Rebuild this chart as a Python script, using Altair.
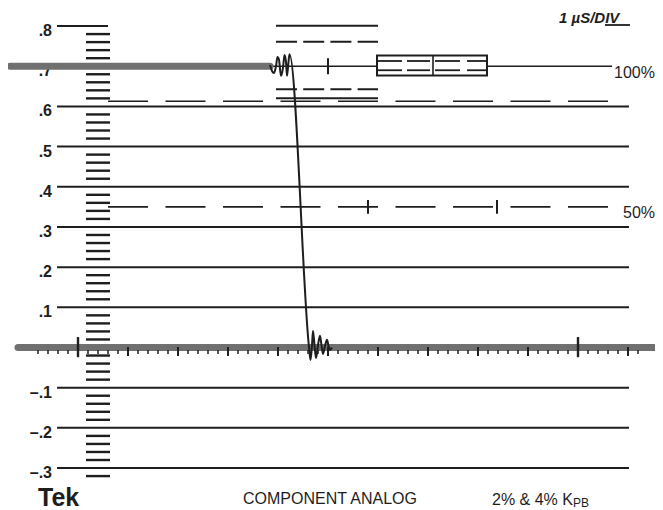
import altair as alt
import pandas as pd

# ---- scale frame (time in microseconds, level in volts) ----
T_DOMAIN = [-1.4, 11.54]
V_DOMAIN = [-0.4044, 0.8449]
W, H = 647, 502

INK = "#1e1e1e"
GRAY = "#707070"
FONT = "Liberation Sans"

# ---- graticule data ----
grid_levels = [0.6, 0.5, 0.4, 0.3, 0.2, 0.1, -0.1, -0.2, -0.3]
grid_span = [-0.42, 11.02]
top_level = [0.8]
top_span = [-0.42, 0.6]
ref100_level = 0.7
ref100_starts = [-0.42, 8.18]
ref100_ends = [5.98, 10.68]
scale_levels = [round(k * 0.02, 2) for k in range(-16, 40) if k % 5 != 0]
scale_span = [0.16, 0.64]
dashed_levels = [0.613, 0.35]
dashed_span = [0.6, 10.64]
mark50_t = [5.8, 8.38]
mark50_v = [0.367, 0.333]
mark100_t = [5.0]
mark100_v = [0.72, 0.68]

# K-factor marks above/below 100%
kf_solid_levels = [0.801, 0.620]
kf_dash_levels = [0.761, 0.643]
kf_span = [3.96, 6.0]

# box around 100%
box_t = [5.98, 8.18]
box_v = [0.677, 0.727]
box_div_t = [7.1]
box_row_levels = [0.713, 0.690]
box_row_starts = [5.98, 6.58, 7.14, 7.78]
box_row_ends = [6.48, 7.04, 7.64, 8.18]

# time ticks on baseline
minor_t = [round(-1.0 + 0.2 * k, 2) for k in range(0, 62) if k % 5 != 0]
major_t = [1, 2, 3, 4, 5, 6, 7, 8, 9, 11]
tall_t = [0, 10]

# gray traces (flat parts of the signal)
gray_levels = [0.7, 0.0]
gray_starts = [-1.36, -1.2]
gray_ends = [3.84, 11.54]

# black trace: ringing, falling edge, ringing
trace_t = [3.84, 3.88, 3.92, 3.96, 3.99, 4.02, 4.06, 4.10, 4.13, 4.16, 4.18, 4.21, 4.23,
           4.62, 4.65, 4.68, 4.70, 4.73, 4.76, 4.80, 4.84, 4.87, 4.90, 4.94, 4.98, 5.01, 5.04, 5.08]
trace_v = [0.703, 0.688, 0.683, 0.700, 0.723, 0.716, 0.676, 0.696, 0.728, 0.711, 0.676, 0.711, 0.730,
           0.001, -0.031, 0.006, 0.041, 0.006, -0.026, 0.006, 0.029, 0.006, -0.016, 0.004, 0.019, 0.004, -0.006, 0.000]

# labels
y_labels = [".8", ".7", ".6", ".5", ".4", ".3", ".2", ".1", "–.1", "–.2", "–.3"]
y_label_values = [0.8, 0.7, 0.6, 0.5, 0.4, 0.3, 0.2, 0.1, -0.1, -0.2, -0.3]
y_label_t = -0.52

xs = alt.Scale(domain=T_DOMAIN, nice=False, zero=False)
ys = alt.Scale(domain=V_DOMAIN, nice=False, zero=False)
X = lambda f: alt.X(f, type="quantitative", scale=xs, axis=None)
Y = lambda f: alt.Y(f, type="quantitative", scale=ys, axis=None)


def hrule(df, width=2.0, dash=None, color=INK, cap="butt"):
    kw = dict(color=color, strokeWidth=width, strokeCap=cap)
    if dash:
        kw["strokeDash"] = dash
    return alt.Chart(df).mark_rule(**kw).encode(x=X("t0"), x2="t1", y=Y("v"))


def vrule(df, width=2.0, color=INK):
    return alt.Chart(df).mark_rule(color=color, strokeWidth=width).encode(x=X("t"), y=Y("v0"), y2="v1")


def label(text, t, v, size, align="left", weight="normal", style="normal", baseline="alphabetic"):
    return (alt.Chart(pd.DataFrame({"lab": [text], "t": [t], "v": [v]}))
            .mark_text(align=align, baseline=baseline, font=FONT, fontSize=size, fontWeight=weight,
                       fontStyle=style, color=INK)
            .encode(x=X("t"), y=Y("v"), text="lab:N"))


layers = []

# y labels (under the gray trace)
layers.append(alt.Chart(pd.DataFrame({"lab": y_labels, "v": y_label_values, "t": y_label_t}))
              .mark_text(align="right", baseline="middle", dy=5, font=FONT, fontSize=16,
                         fontWeight="bold", color=INK)
              .encode(x=X("t"), y=Y("v"), text="lab:N"))

# grid
layers.append(hrule(pd.DataFrame({"v": grid_levels, "t0": grid_span[0], "t1": grid_span[1]}), 2.0))
layers.append(hrule(pd.DataFrame({"v": top_level, "t0": top_span[0], "t1": top_span[1]}), 2.0))
layers.append(hrule(pd.DataFrame({"v": ref100_level, "t0": ref100_starts, "t1": ref100_ends}), 1.6))
layers.append(hrule(pd.DataFrame({"v": scale_levels, "t0": scale_span[0], "t1": scale_span[1]}), 2.4))
layers.append(hrule(pd.DataFrame({"v": dashed_levels, "t0": dashed_span[0], "t1": dashed_span[1]}), 1.6,
                    dash=[40, 17.5]))
layers.append(vrule(pd.DataFrame({"t": mark50_t, "v0": mark50_v[0], "v1": mark50_v[1]}), 2.0))
layers.append(vrule(pd.DataFrame({"t": mark100_t, "v0": mark100_v[0], "v1": mark100_v[1]}), 2.0))

# K-factor marks
layers.append(hrule(pd.DataFrame({"v": kf_solid_levels, "t0": kf_span[0], "t1": kf_span[1]}), 2.0))
layers.append(hrule(pd.DataFrame({"v": kf_dash_levels, "t0": kf_span[0], "t1": kf_span[1]}), 2.0,
                    dash=[21, 6.2]))

# box
layers.append(alt.Chart(pd.DataFrame({"t0": [box_t[0]], "t1": [box_t[1]], "v0": [box_v[0]], "v1": [box_v[1]]}))
              .mark_rect(fill="white", stroke=INK, strokeWidth=2)
              .encode(x=X("t0"), x2="t1", y=Y("v0"), y2="v1"))
layers.append(vrule(pd.DataFrame({"t": box_div_t, "v0": box_v[0], "v1": box_v[1]}), 1.6))
rows = pd.DataFrame([{"v": lv, "t0": a, "t1": b} for lv in box_row_levels
                     for a, b in zip(box_row_starts, box_row_ends)])
layers.append(hrule(rows, 1.8))

# gray signal
layers.append(hrule(pd.DataFrame({"v": gray_levels, "t0": gray_starts, "t1": gray_ends}), 7.0,
                    color=GRAY, cap="round"))

# time ticks
layers.append(vrule(pd.DataFrame({"t": minor_t, "v0": -0.0062, "v1": -0.0162}), 1.5))
layers.append(vrule(pd.DataFrame({"t": major_t, "v0": 0.001, "v1": -0.021}), 2.0))
layers.append(vrule(pd.DataFrame({"t": tall_t, "v0": 0.026, "v1": -0.024}), 2.4))

# black trace
layers.append(alt.Chart(pd.DataFrame({"t": trace_t, "v": trace_v, "i": range(len(trace_t))}))
              .mark_line(color=INK, strokeWidth=2.0, interpolate="monotone")
              .encode(x=X("t"), y=Y("v"), order="i:Q"))

layers.append(label("100%", 10.72, 0.683, 16, baseline="middle"))
layers.append(label("50%", 10.9, 0.335, 16, baseline="middle"))
layers.append(label("1 µS/DIV", 9.62, 0.8076, 15, weight="bold", style="italic"))
layers.append(hrule(pd.DataFrame({"v": [0.8026], "t0": [10.54], "t1": [11.04]}), 1.8))
layers.append(label("Tek", -0.8, -0.3945, 25, weight="bold"))
layers.append(label("COMPONENT ANALOG", 3.3, -0.3895, 16))
layers.append(label("2% & 4% K", 8.28, -0.391, 16))
layers.append(label("PB", 9.9, -0.3965, 12))

chart = alt.layer(*layers).properties(
    width=W, height=H, padding=0, autosize=alt.AutoSizeParams(type="none"),
    background="white"
).configure_view(stroke=None)

chart.save("out.html", embed_options={"renderer": "svg", "actions": False})
